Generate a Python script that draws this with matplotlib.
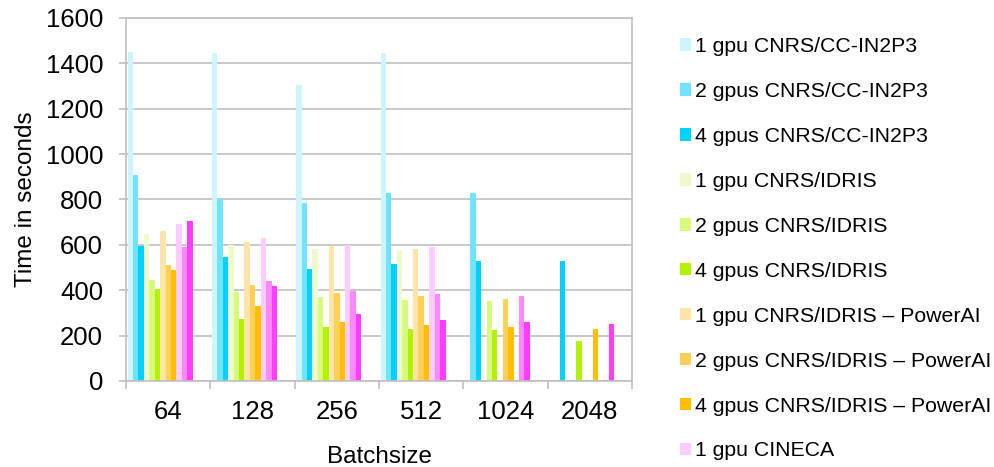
import matplotlib
matplotlib.use('Agg')
import matplotlib.pyplot as plt
import numpy as np

# data (nan = no bar)
batch = ['64', '128', '256', '512', '1024', '2048']
nan = np.nan
series = [
    '1 gpu CNRS/CC-IN2P3', '2 gpus CNRS/CC-IN2P3', '4 gpus CNRS/CC-IN2P3',
    '1 gpu CNRS/IDRIS', '2 gpus CNRS/IDRIS', '4 gpus CNRS/IDRIS',
    '1 gpu CNRS/IDRIS \u2013 PowerAI', '2 gpus CNRS/IDRIS \u2013 PowerAI',
    '4 gpus CNRS/IDRIS \u2013 PowerAI',
    '1 gpu CINECA', '2 gpus CINECA', '4 gpus CINECA',
]
cc_1 = [1450, 1444, 1304, 1447, nan, nan]
cc_2 = [910, 801, 784, 827, 830, nan]
cc_4 = [597, 548, 495, 517, 529, 529]
idris_1 = [650, 601, 583, 579, nan, nan]
idris_2 = [443, 393, 368, 355, 352, nan]
idris_4 = [407, 274, 240, 231, 225, 177]
pai_1 = [663, 614, 594, 583, nan, nan]
pai_2 = [513, 424, 389, 376, 362, nan]
pai_4 = [491, 331, 262, 248, 236, 228]
cineca_1 = [694, 629, 598, 589, nan, nan]
cineca_2 = [592, 441, 398, 383, 376, nan]
cineca_4 = [703, 420, 295, 270, 259, 252]
values = [cc_1, cc_2, cc_4, idris_1, idris_2, idris_4,
          pai_1, pai_2, pai_4, cineca_1, cineca_2, cineca_4]

colors = ['#CCF5FF', '#70E4FF', '#00D2FF',
          '#EEFACC', '#D8FA7A', '#B2F200',
          '#FFE4A8', '#FFD055', '#FFBE00',
          '#FFCCFF', '#FF88FF', '#FF3CFF']

plt.rcParams['font.family'] = ['Liberation Sans', 'DejaVu Sans']
grey = '#BFBFBF'

fig = plt.figure(figsize=(9.94, 4.67), dpi=100)
ax = fig.add_axes([0.1268, 0.1842, 0.5090, 0.7773])

# excel-like cluster: 15 slots per category, only 12 used
w = 0.0643
x0 = np.arange(len(batch)) + 0.018
bars = []
for j, (name, v, col) in enumerate(zip(series, values, colors)):
    b = ax.bar(x0 + j * w, v, width=w, align='edge', color=col,
               linewidth=0, label=name, zorder=2)
    bars.append(b)

ax.set_xlim(0, len(batch))
ax.set_ylim(0, 1600)
ax.set_yticks(np.arange(0, 1601, 200))
ax.yaxis.grid(True, color=grey, linewidth=1.2, zorder=0)
ax.set_axisbelow(True)

ax.set_xticks(np.arange(len(batch) + 1))
ax.set_xticklabels([])
ax.set_xticks(np.arange(len(batch)) + 0.5, minor=True)
ax.set_xticklabels(batch, minor=True)
ax.tick_params(axis='x', which='major', direction='out', length=6,
               color=grey, width=1.2)
ax.tick_params(axis='x', which='minor', length=0, pad=13.5, labelsize=18.5)
ax.tick_params(axis='y', direction='out', length=5, color=grey, width=1.2,
               pad=11.5, labelsize=18.5)

for s in ['left', 'bottom', 'right', 'top']:
    ax.spines[s].set_color(grey)
    ax.spines[s].set_linewidth(1.2)

ax.set_xlabel('Batchsize', fontsize=17.5, labelpad=16)
ax.set_ylabel('Time in seconds', fontsize=17.5, labelpad=6)

# the last legend rows fall below the picture in the original, so only
# the visible ones are listed
fig.legend(bars[:10], series[:10], loc='upper left',
           bbox_to_anchor=(0.684, 0.9204), frameon=False,
           fontsize=15.3, borderpad=0, borderaxespad=0,
           handlelength=0.52, handleheight=0.52, handletextpad=0.2,
           labelspacing=1.22)

fig.savefig('out.png', dpi=100)
